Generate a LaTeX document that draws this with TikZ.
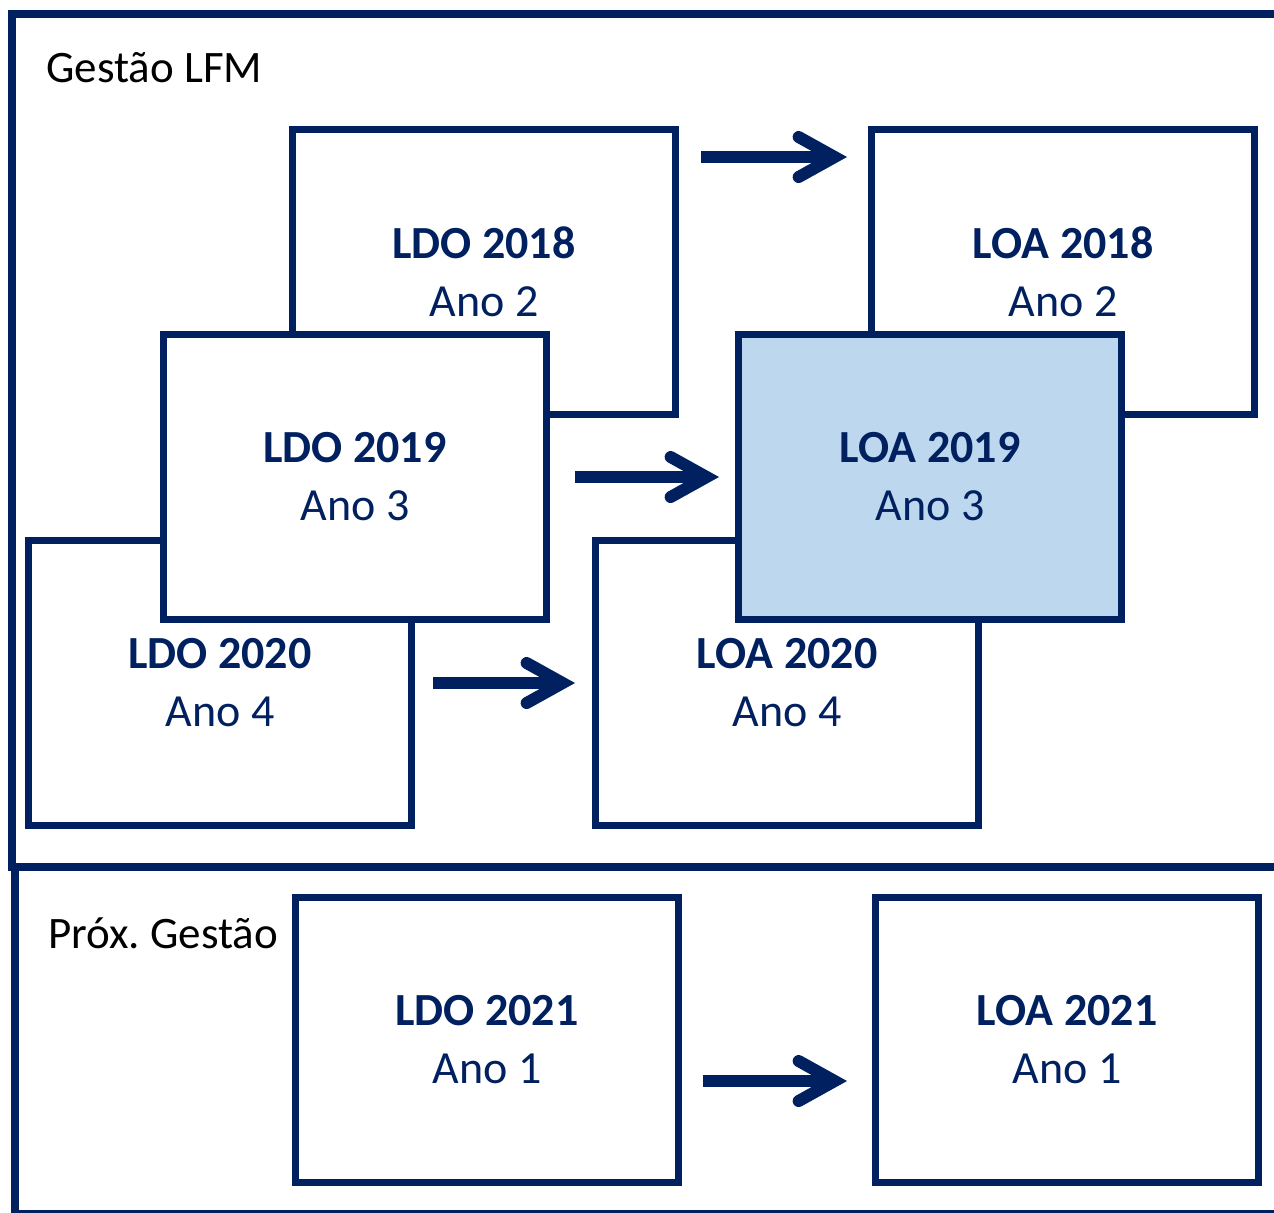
\documentclass[tikz,border=0pt]{standalone}
\usepackage{fontspec}
\setmainfont{Carlito}
\usetikzlibrary{arrows.meta}
\definecolor{azulescuro}{HTML}{002060}
\definecolor{azulclaro}{HTML}{BDD7EE}

\begin{document}
\begin{tikzpicture}[x=0.5pt,y=-0.5pt,
    caixa/.style={draw=azulescuro, line width=3.5pt,
                  minimum width=191.5pt, minimum height=142.5pt,
                  align=center, text=azulescuro, inner sep=0pt,
                  font=\fontsize{23}{29}\selectfont},
    moldura/.style={draw=azulescuro, line width=4pt},
    seta/.style={draw=azulescuro, line width=6pt,
                 -{Straight Barb[length=18pt,width=20pt,line cap=round]}},
    rotulo/.style={anchor=base west, inner sep=0pt,
                   font=\fontsize{22.5}{27}\selectfont}]
    % Page size and clipping of the frames that run off the page
    \useasboundingbox (0,0) rectangle (1274,1212);
    \clip (0,0) rectangle (1274,1212);

    % Outer frames: current and next administration
    \draw[moldura] (12,14) rectangle (1300,867);
    \draw[moldura] (15,867) rectangle (1300,1214);
    \node[rotulo] (gestao) at (46,82) {Gestão LFM};
    \node[rotulo] (proxima) at (48,948) {Próx.\ Gestão};

    % Boxes, drawn back to front: name/x/y/title/year/fill
    \foreach \nome/\x/\y/\titulo/\ano/\cor in {%
        ldo18/484/272/LDO 2018/2/white,
        loa18/1063/272/LOA 2018/2/white,
        ldo20/220/683/LDO 2020/4/white,
        loa20/787/683/LOA 2020/4/white,
        ldo19/355/477/LDO 2019/3/white,
        loa19/930/477/LOA 2019/3/azulclaro,
        ldo21/487/1040/LDO 2021/1/white,
        loa21/1067/1040/LOA 2021/1/white} {%
      \node[caixa, fill=\cor] (\nome) at (\x,\y)
           {\textbf{\titulo}\\Ano \ano};
    }

    % Arrows LDO -> LOA
    \draw[seta, shorten <=11pt, shorten >=10.5pt]
         ([yshift=-15.5pt]ldo18.north east) -- ([yshift=-15.5pt]loa18.north west);
    \draw[seta, shorten <=12.5pt, shorten >=8pt] (ldo19.east) -- (loa19.west);
    \draw[seta, shorten <=9pt, shorten >=8.5pt] (ldo20.east) -- (loa20.west);
    \draw[seta, shorten <=10.5pt, shorten >=12.5pt]
         ([yshift=-20.5pt]ldo21.east) -- ([yshift=-20.5pt]loa21.west);
\end{tikzpicture}
\end{document}
